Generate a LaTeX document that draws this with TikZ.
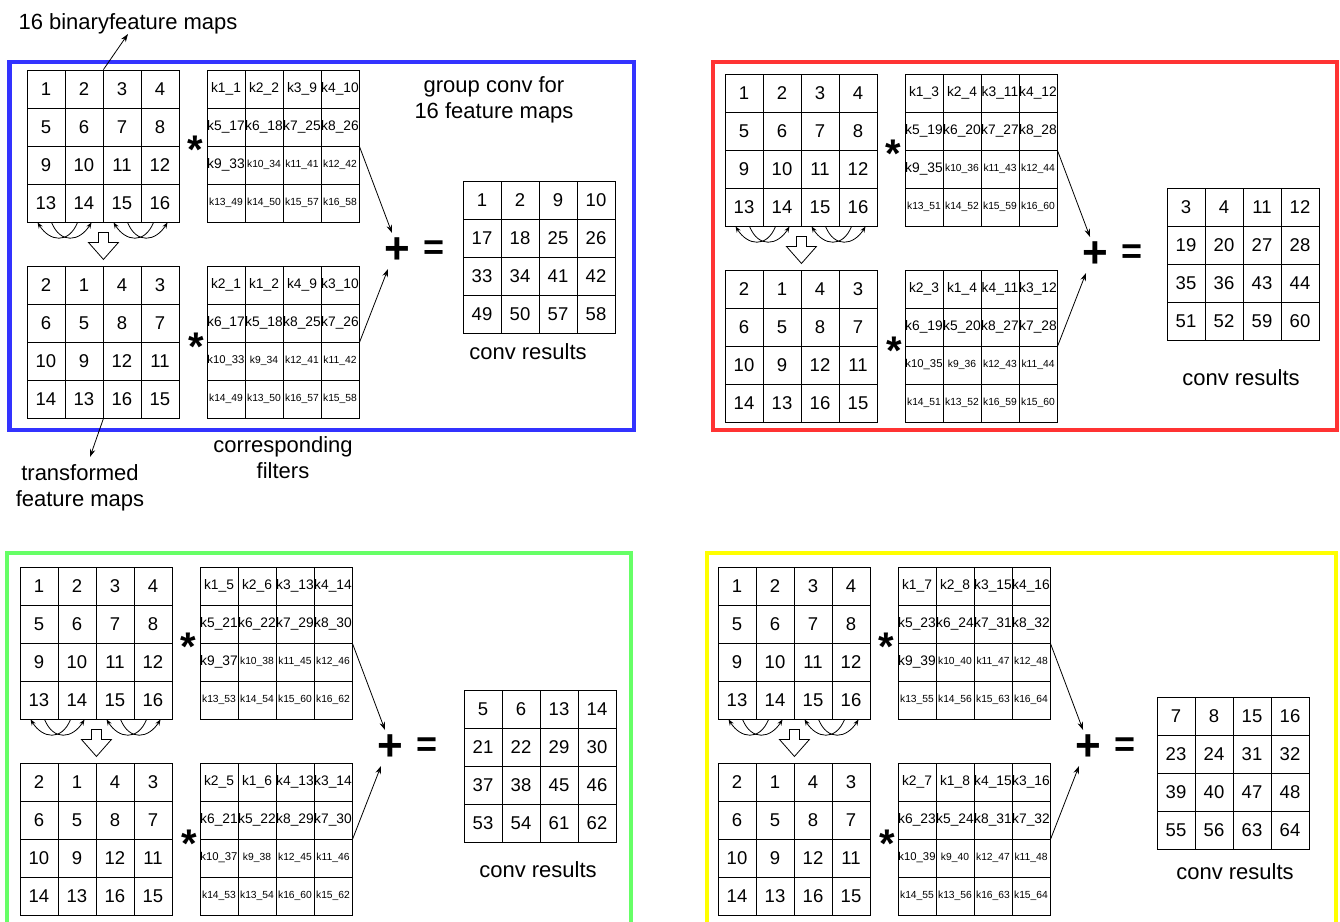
\documentclass[tikz,border=0pt]{standalone}
\usepackage{fontspec}
\setmainfont{Liberation Sans}
\usetikzlibrary{arrows.meta,calc}
\definecolor{pblue}{RGB}{51,51,255}
\definecolor{pred}{RGB}{255,51,51}
\definecolor{pgreen}{RGB}{102,255,102}
\definecolor{pyellow}{RGB}{255,255,0}
\newcommand\fdig{\fontsize{18.5}{20}\selectfont}
\newcommand\fbig{\fontsize{13.8}{15}\selectfont}
\newcommand\fmed{\fontsize{11.3}{13}\selectfont}
\newcommand\fsml{\fontsize{10.3}{12}\selectfont}
\newcommand\flbl{\fontsize{22}{26}\selectfont}
\tikzset{
  cellbox/.style={draw, line width=0.9pt, minimum size=38pt, inner sep=0pt, anchor=center},
  conn/.style={-{Stealth[length=8pt,width=5.5pt]}, line width=0.8pt},
  swaparrow/.style={-{Stealth[length=6pt,width=4.5pt]}, line width=0.8pt},
  asterisk/.style={font=\fontsize{40}{40}\selectfont\bfseries, inner sep=0pt},
  plusn/.style={font=\fontsize{44}{44}\selectfont\bfseries, inner sep=0pt},
  eqn/.style={font=\fontsize{36}{36}\selectfont\bfseries, inner sep=0pt},
  lbl/.style={font=\flbl, inner sep=0pt, align=center},
  panelbox/.style={line width=4.5pt}
}
% #1 name, #2 x, #3 y, #4 list, #5 mode (0 digits, 1 top filter, 2 bottom filter)
\newcommand\cellgrid[5]{%
  \foreach \lab [count=\i from 0] in {#4} {%
    \pgfmathtruncatemacro\rr{div(\i,4)}%
    \pgfmathtruncatemacro\cc{mod(\i,4)}%
    \ifnum#5=0 \gdef\ff{\fdig}\else
      \ifnum\rr<2 \gdef\ff{\fbig}\else
        \ifnum\rr=2 \ifnum\cc=0 \ifnum#5=1 \gdef\ff{\fbig}\else\gdef\ff{\fmed}\fi\else\gdef\ff{\fsml}\fi
        \else\gdef\ff{\fsml}\fi
      \fi
    \fi
    \node[cellbox, font=\ff] (#1-\rr-\cc) at ({#2+38*\cc+19},{#3+38*\rr+19}) {\lab};
  }%
}
% #1 prefix, #2 ox, #3 oy, #4 top filters, #5 bottom filters, #6 results, #7 res x, #8 res y, #9 conv text pos
\newcommand\panel[9]{%
  \cellgrid{#1in}{#2}{#3}{1,2,3,4,5,6,7,8,9,10,11,12,13,14,15,16}{0}
  \cellgrid{#1tr}{#2}{#3+196}{2,1,4,3,6,5,8,7,10,9,12,11,14,13,16,15}{0}
  \cellgrid{#1fa}{#2+180}{#3}{#4}{1}
  \cellgrid{#1fb}{#2+180}{#3+196}{#5}{2}
  \cellgrid{#1res}{#7}{#8}{#6}{0}
  \node[asterisk] (#1sa) at ({#2+168},{#3+80}) {*};
  \node[asterisk] (#1sb) at ({#2+169.5},{#3+277}) {*};
  \node[plusn] (#1plus) at ({#2+370},{#3+181}) {+};
  \node[eqn] (#1eq) at ({#2+407},{#3+180}) {=};
  \coordinate (#1pa) at ({#2+365},{#3+163});
  \coordinate (#1pb) at ({#2+361},{#3+199});
  \draw[conn] (#1fa-1-3.south east) -- (#1pa);
  \draw[conn] (#1fb-1-3.south east) -- (#1pb);
  \node[lbl] (#1ct) at #9 {conv results};
  \draw[swaparrow] ([xshift=13pt]#1in-3-1.south west) .. controls +(-9,22) and +(12,19) .. ([xshift=11pt]#1in-3-0.south west);
  \draw[swaparrow] ([xshift=25pt]#1in-3-0.south west) .. controls +(9,22) and +(-12,19) .. ([xshift=27pt]#1in-3-1.south west);
  \draw[swaparrow] ([xshift=13pt]#1in-3-3.south west) .. controls +(-9,22) and +(12,19) .. ([xshift=11pt]#1in-3-2.south west);
  \draw[swaparrow] ([xshift=25pt]#1in-3-2.south west) .. controls +(9,22) and +(-12,19) .. ([xshift=27pt]#1in-3-3.south west);
  \draw[line width=0.8pt, fill=white, shift={(#1in-3-1.south east)}]
    (-5,10) -- (5,10) -- (5,20) -- (15,20) -- (0,37) -- (-15,20) -- (-5,20) -- cycle;
}
\begin{document}
\begin{tikzpicture}[x=1pt,y=-1pt]
\useasboundingbox (0,0) rectangle (1340,921);
\clip (0,0) rectangle (1340,921);
% panel borders
\draw[panelbox, pblue] (9.5,62) rectangle (634,430);
\draw[panelbox, pred] (713,62) rectangle (1337,430);
\draw[panelbox, pgreen] (7,553) rectangle (631,940);
\draw[panelbox, pyellow] (707,553) rectangle (1336,940);
% blue
\panel{b}{27}{70}
  {k1\_1,k2\_2,k3\_9,k4\_10,k5\_17,k6\_18,k7\_25,k8\_26,k9\_33,k10\_34,k11\_41,k12\_42,k13\_49,k14\_50,k15\_57,k16\_58}
  {k2\_1,k1\_2,k4\_9,k3\_10,k6\_17,k5\_18,k8\_25,k7\_26,k10\_33,k9\_34,k12\_41,k11\_42,k14\_49,k13\_50,k16\_57,k15\_58}
  {1,2,9,10,17,18,25,26,33,34,41,42,49,50,57,58}
  {463}{181}{(528,352)}
% red
\panel{r}{725}{74}
  {k1\_3,k2\_4,k3\_11,k4\_12,k5\_19,k6\_20,k7\_27,k8\_28,k9\_35,k10\_36,k11\_43,k12\_44,k13\_51,k14\_52,k15\_59,k16\_60}
  {k2\_3,k1\_4,k4\_11,k3\_12,k6\_19,k5\_20,k8\_27,k7\_28,k10\_35,k9\_36,k12\_43,k11\_44,k14\_51,k13\_52,k16\_59,k15\_60}
  {3,4,11,12,19,20,27,28,35,36,43,44,51,52,59,60}
  {1167}{188}{(1241,378)}
% green
\panel{g}{20}{567}
  {k1\_5,k2\_6,k3\_13,k4\_14,k5\_21,k6\_22,k7\_29,k8\_30,k9\_37,k10\_38,k11\_45,k12\_46,k13\_53,k14\_54,k15\_60,k16\_62}
  {k2\_5,k1\_6,k4\_13,k3\_14,k6\_21,k5\_22,k8\_29,k7\_30,k10\_37,k9\_38,k12\_45,k11\_46,k14\_53,k13\_54,k16\_60,k15\_62}
  {5,6,13,14,21,22,29,30,37,38,45,46,53,54,61,62}
  {464}{690}{(538,870)}
% yellow
\panel{y}{718}{567}
  {k1\_7,k2\_8,k3\_15,k4\_16,k5\_23,k6\_24,k7\_31,k8\_32,k9\_39,k10\_40,k11\_47,k12\_48,k13\_55,k14\_56,k15\_63,k16\_64}
  {k2\_7,k1\_8,k4\_15,k3\_16,k6\_23,k5\_24,k8\_31,k7\_32,k10\_39,k9\_40,k12\_47,k11\_48,k14\_55,k13\_56,k16\_63,k15\_64}
  {7,8,15,16,23,24,31,32,39,40,47,48,55,56,63,64}
  {1157}{697}{(1235,872)}
% annotations (blue panel)
\node[lbl] (tbin) at (128,24) {16 binaryfeature maps};
\coordinate (tbinp) at (128,34);
\draw[conn] (bin-0-1.north east) -- (tbinp);
\node[lbl] (ttr) at (80,488) {transformed\\feature maps};
\coordinate (ttrp) at (90,457);
\draw[conn] (btr-3-1.south east) -- (ttrp);
\node[lbl] (tcf) at (283,458) {corresponding\\filters};
\node[lbl] (tgc) at (494,100) {group conv for\\16 feature maps};
\end{tikzpicture}
\end{document}
